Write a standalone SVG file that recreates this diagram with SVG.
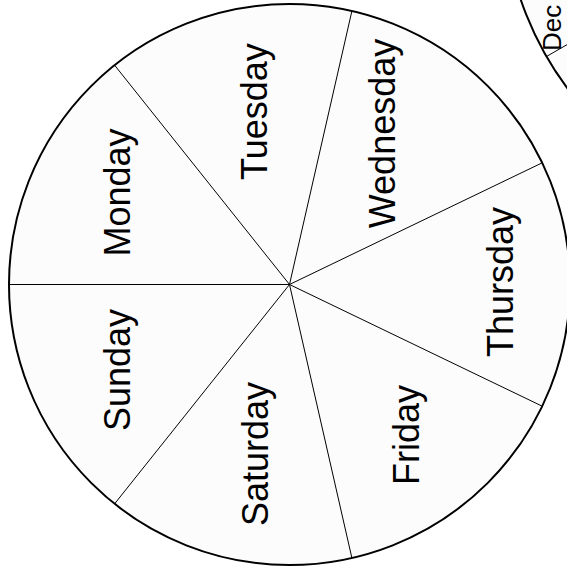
<svg xmlns="http://www.w3.org/2000/svg" width="567" height="569" viewBox="0 0 567 569">
<style>
.disc{fill:#fcfcfc;stroke:#000;stroke-width:2}
.spoke{stroke:#000;stroke-width:1;fill:none}
.lbl{font-family:"Liberation Sans",Arial,sans-serif;font-size:36px;fill:#000;text-anchor:middle}
.lbl2{font-family:"Liberation Sans",Arial,sans-serif;font-size:26px;fill:#000;text-anchor:start}
</style>
<rect width="567" height="569" fill="#fff"/>
<g id="month-wheel">
<circle class="disc" cx="821" cy="-102" r="317"/>
<line class="spoke" x1="821" y1="-102" x2="546.5" y2="56.5"/>
<text class="lbl2" transform="translate(561,51) rotate(-90)">Dec</text>
</g>
<g id="day-wheel">
<circle class="disc" cx="289.5" cy="284.5" r="280.5"/>
</g>
<g id="spokes">
<line class="spoke" x1="289.5" y1="284.5" x2="9" y2="284.5"/>
<line class="spoke" x1="289.5" y1="284.5" x2="114.6" y2="65.2"/>
<line class="spoke" x1="289.5" y1="284.5" x2="351.9" y2="11"/>
<line class="spoke" x1="289.5" y1="284.5" x2="542.2" y2="162.8"/>
<line class="spoke" x1="289.5" y1="284.5" x2="542.2" y2="406.2"/>
<line class="spoke" x1="289.5" y1="284.5" x2="351.9" y2="558"/>
<line class="spoke" x1="289.5" y1="284.5" x2="114.6" y2="503.8"/>
</g>
<g id="monday"><text class="lbl" transform="translate(130,192.5) rotate(-90)">Monday</text></g>
<g id="tuesday"><text class="lbl" transform="translate(267,111.5) rotate(-90)">Tuesday</text></g>
<g id="wednesday"><text class="lbl" transform="translate(395,133.5) rotate(-90)">Wednesday</text></g>
<g id="thursday"><text class="lbl" transform="translate(513,282) rotate(-90)">Thursday</text></g>
<g id="friday"><text class="lbl" transform="translate(419,435) rotate(-90)">Friday</text></g>
<g id="saturday"><text class="lbl" transform="translate(268,454) rotate(-90)">Saturday</text></g>
<g id="sunday"><text class="lbl" transform="translate(130,370) rotate(-90)">Sunday</text></g>
</svg>
